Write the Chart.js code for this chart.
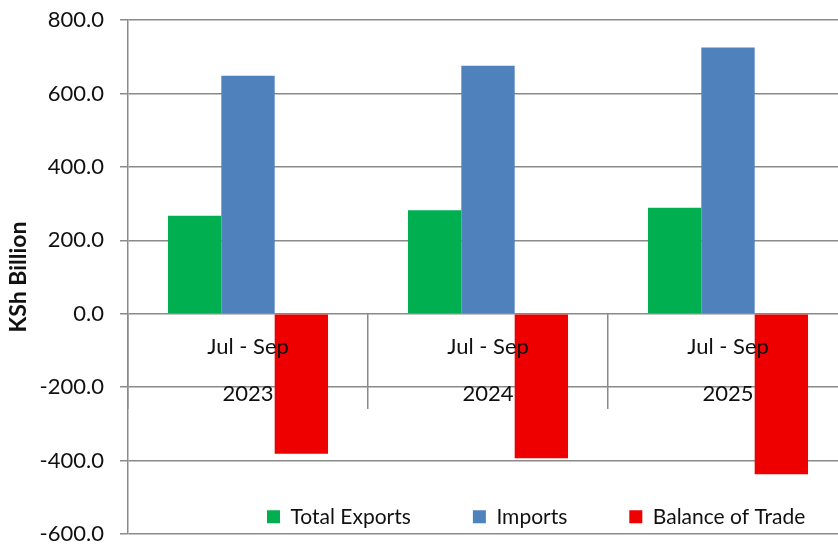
<!DOCTYPE html>
<html>
<head>
<meta charset="utf-8">
<script src="https://cdn.jsdelivr.net/npm/chart.js@4.4.1/dist/chart.umd.min.js"></script>
<style>
  html, body { margin: 0; padding: 0; background: #fff; overflow: hidden; }
  #wrap { position: relative; width: 860px; height: 547px; }
</style>
</head>
<body>
<div id="wrap"><canvas id="trade-chart"></canvas></div>
<script>
// quarterly trade, KSh billion
const periods = ['Jul - Sep', 'Jul - Sep', 'Jul - Sep'];
const years = ['2023', '2024', '2025'];
const totalExports = [266.6, 281.6, 288.3];
const imports = [647.9, 675.6, 725.4];
const balanceOfTrade = [-381.3, -394.0, -437.1];
const yTicks = [-600, -400, -200, 0, 200, 400, 600, 800];

const FONT = 'Lato, "Open Sans", sans-serif';
const GRID = '#8a8a8a';

// legend sits inside the plot, near the bottom, like the Excel original
const legendInside = {
  id: 'legendInside',
  beforeUpdate(chart) {
    const lg = chart.legend;
    if (!lg || lg._wrapped) return;
    const fit = lg.fit.bind(lg);
    lg.fit = function () { fit(); this._h = this.height; this.height = 0; };
    lg._wrapped = true;
  },
  afterLayout(chart) {
    const lg = chart.legend;
    if (!lg) return;
    const pad = lg.options.labels.padding;
    const fs = lg.options.labels.font.size;
    const cy = chart.scales.y.getPixelForValue(-553);
    lg.height = lg._h;
    lg.top = cy - fs / 2 - pad;
    lg.bottom = lg.top + lg._h;
    const w = lg.right - lg.left;
    lg.left = chart.chartArea.left + 77;
    lg.right = lg.left + w;
  }
};

new Chart(document.getElementById('trade-chart'), {
  type: 'bar',
  data: {
    labels: periods.map((p, i) => [p, years[i]]),
    datasets: [
      { label: 'Total Exports', data: totalExports, backgroundColor: '#00B050' },
      { label: 'Imports', data: imports, backgroundColor: '#4F81BD' },
      { label: 'Balance of Trade', data: balanceOfTrade, backgroundColor: '#EE0000' }
    ]
  },
  options: {
    responsive: true,
    maintainAspectRatio: false,
    animation: false,
    layout: { padding: { left: 0, right: 12, top: 20, bottom: 13 } },
    datasets: { bar: { categoryPercentage: 0.667, barPercentage: 1.0 } },
    plugins: {
      legend: {
        position: 'bottom',
        align: 'start',
        labels: {
          color: '#111',
          font: { family: FONT, size: 21 },
          boxWidth: 13,
          boxHeight: 13,
          padding: 62
        }
      },
      tooltip: { enabled: false }
    },
    scales: {
      x: {
        position: { y: 0 },
        afterFit(s) { s.height = 0; },
        grid: {
          offset: true,
          drawOnChartArea: false,
          drawTicks: true,
          tickLength: 95,
          color: GRID,
          lineWidth: 1.5
        },
        border: { display: false },
        ticks: {
          z: 1,
          color: '#111',
          padding: -86,
          maxRotation: 0,
          font: { family: FONT, size: 22, lineHeight: 2.16 }
        }
      },
      y: {
        min: yTicks[0],
        max: yTicks[yTicks.length - 1],
        afterFit(s) { s.width = 128; s.paddingTop = 0; s.paddingBottom = 0; },
        grid: { color: GRID, lineWidth: 1.5, tickLength: 8 },
        border: { color: GRID, width: 1.5 },
        ticks: {
          stepSize: 200,
          padding: 16,
          color: '#111',
          font: { family: FONT, size: 22 },
          callback: v => v.toFixed(1)
        },
        title: {
          display: true,
          text: 'KSh Billion',
          color: '#111',
          padding: { top: 5, bottom: 0 },
          font: { family: FONT, size: 23, weight: 'bold' }
        }
      }
    }
  },
  plugins: [legendInside]
});
</script>
</body>
</html>
